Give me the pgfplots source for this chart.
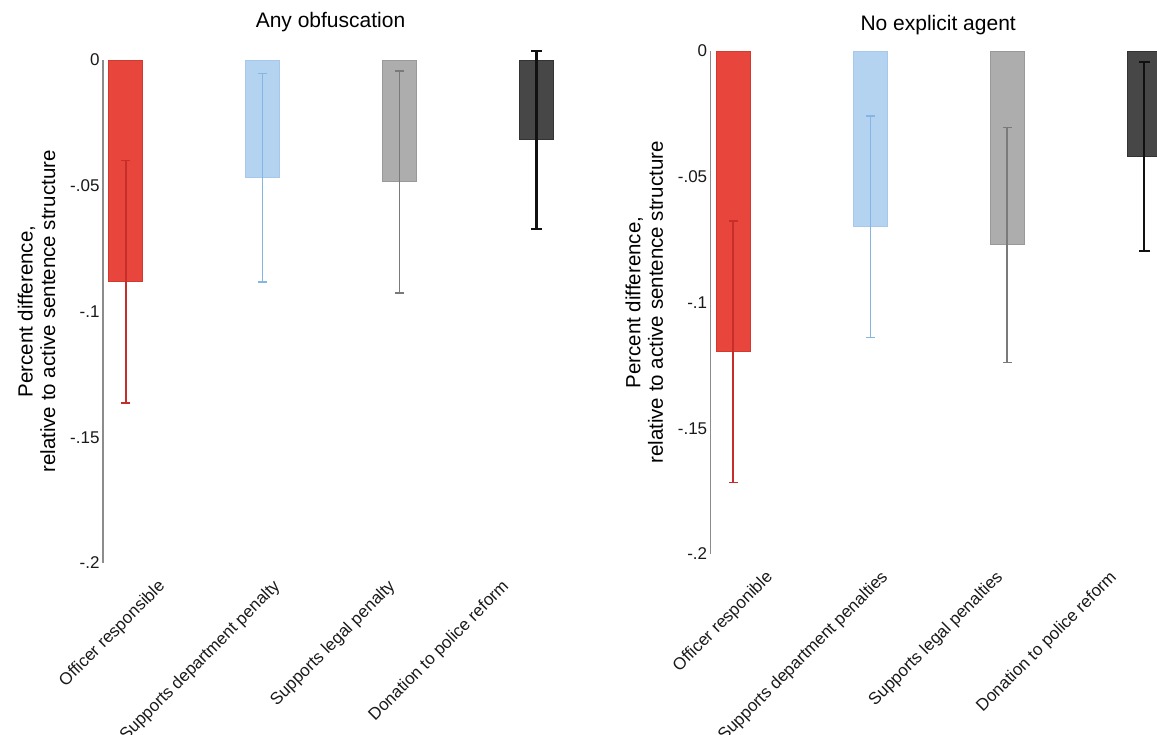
\documentclass[border=0pt]{standalone}
\usepackage{fontspec}
\setmainfont{Liberation Sans}
\usepackage{pgfplots}
\pgfplotsset{compat=1.18}
\definecolor{cRed}{HTML}{E8463D}
\definecolor{cRedE}{HTML}{D23A31}
\definecolor{cRedD}{HTML}{C62F29}
\definecolor{cBlue}{HTML}{B4D3F0}
\definecolor{cBlueE}{HTML}{A6C8EA}
\definecolor{cBlueD}{HTML}{85B5E2}
\definecolor{cGray}{HTML}{ADADAD}
\definecolor{cGrayE}{HTML}{999999}
\definecolor{cGrayD}{HTML}{7A7A7A}
\definecolor{cDark}{HTML}{474747}
\definecolor{cDarkE}{HTML}{333333}
\definecolor{cDarkD}{HTML}{111111}
\pgfplotsset{
  panel/.style={
    scale only axis, width=455pt, height=503pt,
    anchor=south west,
    xmin=-0.165, xmax=3.156, ymin=-0.2, ymax=0,
    axis y line*=left, axis x line*=bottom,
    x axis line style={draw=none},
    y axis line style={draw=black!45, line width=1.1pt},
    major tick length=0pt,
    ytick={-0.2,-0.15,-0.1,-0.05,0},
    yticklabels={-.2,-.15,-.1,-.05,0},
    xtick={0.27,1.11,1.95,2.78},
    ybar, bar width=34pt, bar shift=0pt,
    clip=false,
    tick label style={font=\fontsize{17}{20}\selectfont, text=black!90},
    xticklabel style={yshift=-21pt, rotate=45, anchor=east, inner sep=0pt},
    title style={at={(0.5,1)}, anchor=base, font=\fontsize{21}{25}\selectfont},
    ylabel={Percent difference,\\relative to active sentence structure},
    ylabel style={at={(axis description cs:-0.097,0.5)}, anchor=south, align=center,
      font=\fontsize{20.5}{22.5}\selectfont},
  },
  ebar/.style n args={4}{
    fill=#1, draw=#1E, line width=0.8pt,
    error bars/.cd, y dir=both, y explicit,
    error bar style={line width=#3, draw=#1D},
    error mark options={rotate=90, line width=#4, mark size=#2, draw=#1D},
  },
}
\begin{document}
\begin{tikzpicture}
\useasboundingbox (0pt,0pt) rectangle (1157pt,734pt);
\clip (0pt,0pt) rectangle (1157pt,734pt);
\begin{axis}[panel, at={(103pt,171pt)}, title={Any obfuscation},
  title style={yshift=26pt},
  xticklabels={Officer responsible, Supports department penalty, Supports legal penalty, Donation to police reform}]
\addplot[ebar={cRed}{4.5pt}{2pt}{1.6pt}] coordinates {(0,-0.0881) += (0,0.0482) -= (0,0.0483)};
\addplot[ebar={cBlue}{4.5pt}{1.5pt}{1.3pt}] coordinates {(1,-0.0467) += (0,0.0413) -= (0,0.0416)};
\addplot[ebar={cGray}{4.5pt}{1.7pt}{1.4pt}] coordinates {(2,-0.0484) += (0,0.0441) -= (0,0.0442)};
\addplot[ebar={cDark}{5.5pt}{2.3pt}{2pt}] coordinates {(3,-0.0314) += (0,0.0351) -= (0,0.0356)};
\end{axis}
\begin{axis}[panel, at={(710.7pt,180pt)}, title={No explicit agent},
  title style={yshift=14pt},
  xticklabels={Officer responible, Supports department penalties, Supports legal penalties, Donation to police reform}]
\addplot[ebar={cRed}{4.5pt}{2pt}{1.6pt}] coordinates {(0,-0.1195) += (0,0.0518) -= (0,0.0520)};
\addplot[ebar={cBlue}{4.5pt}{1.5pt}{1.3pt}] coordinates {(1,-0.0697) += (0,0.0438) -= (0,0.0442)};
\addplot[ebar={cGray}{4.5pt}{1.7pt}{1.4pt}] coordinates {(2,-0.0770) += (0,0.0467) -= (0,0.0468)};
\addplot[ebar={cDark}{5.5pt}{2.3pt}{2pt}] coordinates {(3,-0.0418) += (0,0.0374) -= (0,0.0378)};
\end{axis}
\end{tikzpicture}
\end{document}
